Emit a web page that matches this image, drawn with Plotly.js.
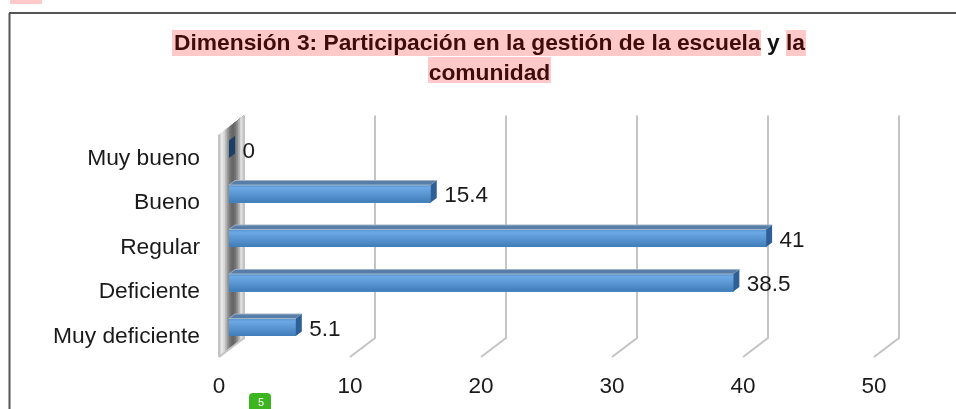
<!DOCTYPE html>
<html>
<head>
<meta charset="utf-8">
<script src="https://cdn.plot.ly/plotly-3.0.1.min.js"></script>
<style>
html,body{margin:0;padding:0;background:#fff;overflow:hidden}
#chart{width:956px;height:409px;filter:blur(0.45px)}
</style>
</head>
<body>
<div id="chart"></div>
<script>
// Data
const categories = ['Muy deficiente', 'Deficiente', 'Regular', 'Bueno', 'Muy bueno'];
const values = [5.1, 38.5, 41, 15.4, 0];
const valueLabels = ['5.1', '38.5', '41', '15.4', '0'];
const xTicks = [0, 10, 20, 30, 40, 50];

// Pixel frame of the drawing
const W = 956, H = 409;
const plot = {l: 210, r: 910, t: 105, b: 365};
const x0px = 219, xUnit = 13.1;      // value 0 on the front plane, px per value unit
const yBasePx = 357, yUnit = 44.5;   // bottom of the front plane, px per category
const PX = p => p / xUnit, PY = p => p / yUnit;
const rangeX = shift => [(plot.l - x0px - shift) / xUnit, (plot.r - x0px - shift) / xUnit];
const rangeY = shift => [(yBasePx - shift - plot.b) / yUnit - 0.5, (yBasePx - shift - plot.t) / yUnit - 0.5];
const idx = categories.map((_, i) => i);
const nCat = categories.length;

const axisDepthX = PX(25), axisDepthBottom = PY(19), axisDepthTop = PY(19);
const yLow = -0.5, yHigh = nCat - 0.5;
const fontFamily = 'Liberation Sans, Arial, sans-serif';
const labelSize = 22.5;

const traces = [];

// Back wall: shaded strips running in depth, each one overlapping the next to avoid seams
const wallShades = ['#d4d4d4','#e8e8e8','#dcdcdc','#bdbdbd','#9a9a9a','#7c7c7c','#6a6a6a','#666666','#747474','#909090','#b6b6b6','#dedede','#d0d0d0'];
wallShades.forEach((c, i) => {
  const a = i / wallShades.length, b = 1;
  traces.push({
    type: 'scatter', mode: 'lines', fill: 'toself', fillcolor: c,
    line: {width: 0}, hoverinfo: 'skip', showlegend: false,
    x: [a, b, b, a, a].map(d => d * axisDepthX),
    y: [yLow + a * axisDepthBottom, yLow + b * axisDepthBottom,
        yHigh + b * axisDepthTop, yHigh + a * axisDepthTop, yLow + a * axisDepthBottom]
  });
});

// Grid lines: diagonal along the floor, then vertical on the back plane
const gx = [], gy = [];
xTicks.forEach(t => {
  gx.push(t, t + axisDepthX, t + axisDepthX, null);
  gy.push(yLow, yLow + axisDepthBottom, yHigh + axisDepthTop, null);
});
gx.push(0, 0, null); gy.push(yLow, yHigh, null);
traces.push({
  type: 'scatter', mode: 'lines', x: gx, y: gy,
  line: {color: '#c4c4c4', width: 2}, hoverinfo: 'skip', showlegend: false
});

// Bars: nested bands, each covering the rest of the bar, give the front face its gradient
const barH = PY(17.5);
const bandColors = ['#5f9cd8','#6aa7e3','#66a3df','#609dd9','#5a97d3','#5491cd','#4e8bc7','#4885c1','#4280bc'];
bandColors.forEach((c, i) => {
  const w = barH / bandColors.length;
  traces.push({
    type: 'bar', orientation: 'h', x: values, y: idx,
    xaxis: 'x2', yaxis: 'y2',
    width: barH - i * w, offset: -barH / 2,
    marker: {color: c, line: {width: 0}},
    hoverinfo: 'skip', showlegend: false
  });
});

// Bar depth faces; a zero-length bar shows only its darker end cap
const barDX = PX(6), barDY = PY(4.5);
const topX = [], topY = [], sideX = [], sideY = [], capX = [], capY = [];
values.forEach((v, i) => {
  const up = i + barH / 2, lo = i - barH / 2;
  if (v > 0) {
    topX.push(0, v, v + barDX, barDX, 0, null);
    topY.push(up, up, up + barDY, up + barDY, up, null);
  }
  const sx = v > 0 ? sideX : capX, sy = v > 0 ? sideY : capY;
  sx.push(v, v + barDX, v + barDX, v, v, null);
  sy.push(lo, lo + barDY, up + barDY, up, lo, null);
});
traces.push({
  type: 'scatter', mode: 'lines', fill: 'toself', fillcolor: '#567ea8',
  x: topX, y: topY, xaxis: 'x2', yaxis: 'y2',
  line: {color: '#9fb2c6', width: 1}, hoverinfo: 'skip', showlegend: false
});
traces.push({
  type: 'scatter', mode: 'lines', fill: 'toself', fillcolor: '#2e5f96',
  x: sideX, y: sideY, xaxis: 'x2', yaxis: 'y2',
  line: {width: 0}, hoverinfo: 'skip', showlegend: false
});
traces.push({
  type: 'scatter', mode: 'lines', fill: 'toself', fillcolor: '#1c3f66',
  x: capX, y: capY, xaxis: 'x2', yaxis: 'y2',
  line: {width: 0}, hoverinfo: 'skip', showlegend: false
});

// Value labels
traces.push({
  type: 'scatter', mode: 'text', xaxis: 'x2', yaxis: 'y2',
  x: values.map(v => v + PX(13.5)), y: idx.map(i => i - PY(2.8)),
  text: valueLabels, textposition: 'middle right',
  textfont: {family: fontFamily, size: labelSize, color: '#1a1a1a'},
  hoverinfo: 'skip', showlegend: false, cliponaxis: false
});

// Paper coordinate helpers for page furniture
const pw = plot.r - plot.l, ph = plot.b - plot.t;
const px = p => (p - plot.l) / pw, py = p => (plot.b - p) / ph;
const rect = (x1, y1, x2, y2, color) => ({
  type: 'rect', xref: 'paper', yref: 'paper', layer: 'below',
  x0: px(x1), x1: px(x2), y0: py(y2), y1: py(y1),
  fillcolor: color, line: {width: 0}
});
const seg = (x1, y1, x2, y2) => ({
  type: 'line', xref: 'paper', yref: 'paper', layer: 'below',
  x0: px(x1), x1: px(x2), y0: py(y1), y1: py(y2),
  line: {color: '#555555', width: 2}
});
const badge = (x1, y1, x2, y2, r, color) => ({
  type: 'path', xref: 'paper', yref: 'paper', layer: 'below',
  path: 'M ' + px(x1 + r) + ' ' + py(y1) + ' L ' + px(x2 - r) + ' ' + py(y1) +
        ' Q ' + px(x2) + ' ' + py(y1) + ' ' + px(x2) + ' ' + py(y1 + r) +
        ' L ' + px(x2) + ' ' + py(y2) + ' L ' + px(x1) + ' ' + py(y2) +
        ' L ' + px(x1) + ' ' + py(y1 + r) +
        ' Q ' + px(x1) + ' ' + py(y1) + ' ' + px(x1 + r) + ' ' + py(y1) + ' Z',
  fillcolor: color, line: {width: 0}
});

const pink = '#ffc9c9';
const shapes = [
  rect(10, 0, 42, 4, pink),
  seg(9, 13, 956, 13),
  seg(9.5, 13, 9.5, 409),
  rect(172, 30, 761, 56, pink),
  rect(786, 30, 806, 56, pink),
  rect(428, 57, 551, 83, pink),
  badge(249, 393, 271, 412, 4, '#3cb521')
];

const maroon = s => '<span style="color:#3f0c0c">' + s + '</span>';
const layout = {
  width: W, height: H,
  margin: {l: plot.l, r: W - plot.r, t: plot.t, b: H - plot.b, pad: 0},
  paper_bgcolor: '#fff', plot_bgcolor: 'rgba(0,0,0,0)',
  showlegend: false, hovermode: false, barmode: 'overlay',
  font: {family: fontFamily, size: labelSize, color: '#1a1a1a'},
  title: {
    text: maroon('Dimensión 3: Participación en la gestión de la escuela') + ' y ' + maroon('la') + '<br>' + maroon('comunidad'),
    font: {family: fontFamily, size: 22.8, weight: 700, color: '#111'},
    xref: 'container', yref: 'container', x: 489.5 / W, xanchor: 'center',
    y: 1 - 50 / H, yanchor: 'top', pad: {t: 0, b: 0, l: 0, r: 0}
  },
  xaxis: {
    range: rangeX(0), tickvals: xTicks, ticktext: xTicks.map(String),
    showgrid: false, zeroline: false, showline: false, ticks: '',
    ticklabelstandoff: 4, tickfont: {size: labelSize, color: '#1a1a1a'}, fixedrange: true
  },
  yaxis: {
    range: rangeY(0), tickvals: idx, ticktext: categories,
    showgrid: false, zeroline: false, showline: false, ticks: '',
    ticklabelstandoff: 9, tickfont: {size: 22.8, color: '#1a1a1a'}, fixedrange: true
  },
  xaxis2: {overlaying: 'x', range: rangeX(10), visible: false, fixedrange: true},
  yaxis2: {overlaying: 'y', range: rangeY(7.5), visible: false, fixedrange: true},
  shapes,
  annotations: [{
    xref: 'paper', yref: 'paper', x: px(260.5), y: py(401.5), text: '5', showarrow: false,
    font: {size: 11, color: '#ffffff'}, xanchor: 'center', yanchor: 'middle',
    borderpad: 0, borderwidth: 0
  }]
};

Plotly.newPlot('chart', traces, layout, {displayModeBar: false, staticPlot: true});
</script>
</body>
</html>
